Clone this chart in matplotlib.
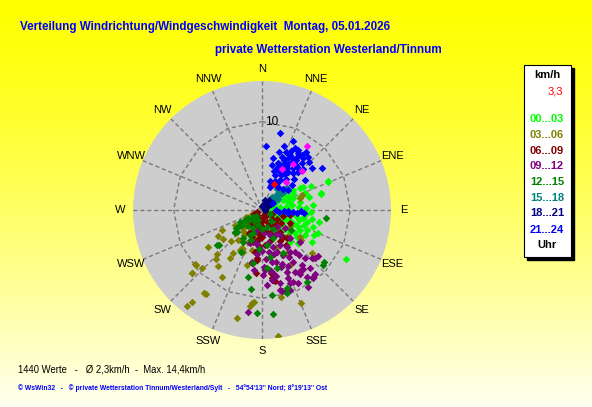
import numpy as np
import matplotlib
matplotlib.use("Agg")
import matplotlib.pyplot as plt
from matplotlib.patches import Rectangle

plt.rcParams['font.family'] = ['Liberation Sans', 'DejaVu Sans']

# ---------------- data (direction in degrees, speed in km/h) ----------------
dir_00_03 = [67, 75, 84, 61, 64, 71, 61, 76, 93, 101, 105, 114, 123, 112, 116, 118, 128, 113, 112, 98, 80, 120,
             139, 128, 64, 60, 66, 74, 69, 70, 80, 85, 90, 95, 100, 105, 108, 115, 120, 125, 130, 110, 100, 95, 88,
             78, 82, 88, 104, 118, 125, 135, 140, 65, 55, 58, 50, 75, 68, 92, 108, 120, 132, 102, 110, 95, 85, 100,
             120, 60, 70, 130, 145]
spd_00_03 = [8.1, 6.9, 5.8, 5.3, 6.2, 4.6, 4.0, 3.3, 4.1, 4.7, 5.3, 5.6, 6.7, 6.8, 6.5, 4.9, 4.0, 3.8, 3.1, 2.4, 2.1,
             11.0, 4.8, 5.0, 2.6, 5.0, 8.2, 7.0, 3.8, 3.0, 3.5, 4.2, 3.0, 3.6, 3.9, 4.3, 3.2, 4.4, 3.6, 4.5, 3.4, 5.0,
             5.8, 5.0, 5.0, 4.4, 2.8, 2.2, 2.7, 2.5, 2.8, 3.2, 4.0, 3.4, 3.0, 4.2, 3.6, 5.5, 5.2, 5.6, 6.1, 5.6, 5.5,
             6.6, 2.0, 1.6, 1.2, 1.0, 1.4, 2.0, 1.4, 2.0, 3.0]

dir_03_06 = [243, 239, 236, 226, 223, 214, 214, 230, 219, 208, 204, 218, 211, 231, 226, 228, 215, 217, 218, 223, 230,
             204, 194, 186, 230, 228, 214, 193, 187, 185, 72, 125, 153, 131, 209, 226, 168, 157, 173, 70, 235, 240,
             245, 220, 210, 200, 250, 225, 215, 128, 135, 150, 160, 195, 198, 120, 233]
spd_03_06 = [5.1, 5.8, 7.4, 7.1, 7.6, 6.5, 5.9, 4.0, 4.4, 4.9, 5.2, 8.1, 8.8, 9.7, 9.4, 10.6, 11.5, 13.1, 13.8, 2.3,
             1.8, 4.0, 4.7, 10.6, 9.7, 10.7, 11.4, 12.5, 10.9, 10.5, 4.5, 5.3, 7.0, 7.5, 5.2, 3.0, 10.1, 11.4, 14.4,
             4.8, 2.6, 3.5, 2.0, 3.2, 2.0, 1.6, 1.2, 5.0, 3.5, 5.6, 4.2, 5.6, 4.6, 6.4, 3.0, 3.6, 5.5]

dir_06_09 = [190, 184, 189, 173, 157, 147, 141, 142, 138, 189, 186, 172, 170, 171, 177, 186, 185, 200, 210, 220, 180,
             170, 160, 150, 130, 120, 110, 105, 100, 115, 125, 135, 195, 205, 215, 230, 240, 250, 180, 175, 165, 155,
             145, 150, 195, 200, 185, 178, 160, 140, 110, 190, 210, 172, 170, 187, 183, 190, 186, 186]
spd_06_09 = [2.5, 3.2, 3.5, 0.9, 1.5, 2.3, 3.2, 3.9, 4.3, 4.8, 5.5, 7.8, 7.5, 8.0, 6.6, 5.7, 7.2, 1.5, 1.2, 0.8, 1.8,
             2.4, 2.8, 1.8, 1.5, 2.0, 1.2, 2.5, 3.2, 3.5, 2.6, 2.2, 2.0, 2.6, 2.0, 1.5, 1.0, 0.6, 3.0, 4.0, 3.6, 3.3,
             4.8, 4.0, 3.8, 3.3, 2.8, 1.2, 0.6, 0.8, 0.5, 1.0, 3.0, 7.2, 8.2, 2.2, 2.9, 3.4, 2.1, 4.0]

dir_09_12 = [149, 144, 145, 149, 146, 140, 132, 134, 129, 138, 146, 146, 153, 155, 160, 163, 170, 169, 177, 179, 172,
             159, 159, 166, 154, 143, 141, 144, 128, 162, 139, 171, 162, 176, 164, 157, 149, 143, 140, 148, 161, 166,
             188, 191, 188, 178, 172, 165, 167, 186, 191, 150, 155, 160, 165, 158, 152, 168, 175, 180, 185, 190, 170,
             150, 135, 130, 142, 174, 195, 200]
spd_09_12 = [6.9, 7.7, 8.1, 8.4, 9.2, 8.5, 8.1, 7.9, 8.2, 7.3, 5.7, 5.1, 4.5, 5.6, 5.1, 4.4, 3.8, 6.0, 6.8, 7.4, 6.9,
             8.2, 8.9, 8.5, 9.2, 9.6, 6.6, 3.5, 3.3, 3.0, 2.6, 7.1, 6.8, 8.5, 9.7, 8.9, 10.2, 9.5, 9.4, 8.1, 9.6, 9.4,
             11.7, 6.0, 6.9, 6.5, 8.0, 6.1, 9.3, 5.0, 6.1, 6.2, 7.0, 6.5, 5.2, 7.6, 8.0, 7.6, 5.6, 4.6, 4.2, 3.8, 4.8,
             3.2, 4.5, 5.6, 6.0, 2.6, 2.5, 4.0]

dir_12_15 = [233, 234, 236, 231, 231, 207, 234, 232, 201, 192, 188, 190, 229, 232, 241, 183, 97, 130, 166, 175, 154,
             172, 159, 206, 236, 207, 170, 173, 174, 162, 163, 148, 225, 215, 195, 180, 165, 150, 140, 120, 200, 210,
             220, 185, 235, 132, 125, 240, 240, 214, 202]
spd_12_15 = [2.8, 3.3, 3.0, 4.0, 6.3, 5.3, 2.0, 1.3, 2.8, 7.8, 9.0, 6.1, 3.8, 6.4, 2.8, 11.7, 7.3, 9.1, 6.8, 6.6, 5.4,
             4.0, 3.4, 3.2, 2.0, 2.3, 5.4, 9.7, 11.8, 9.3, 9.8, 9.6, 1.0, 1.5, 1.8, 2.2, 2.0, 2.5, 1.6, 1.0, 3.6, 4.2,
             2.4, 4.4, 3.6, 9.3, 4.0, 1.8, 2.2, 3.8, 1.2]

dir_15_18 = [47, 47, 47, 47, 47, 47, 47, 47, 47, 47, 47, 44, 44, 44, 44, 50, 50, 50, 50, 52, 36, 38, 40, 55, 45, 49]
spd_15_18 = [0.5, 0.8, 1.1, 1.4, 1.7, 2.0, 2.3, 2.6, 2.9, 3.2, 3.5, 1.0, 1.8, 2.5, 3.0, 1.3, 2.1, 2.8, 3.4, 3.7, 2.9,
             1.9, 1.2, 2.2, 0.3, 3.8]

dir_18_21 = [30, 45, 60, 20, 70, 40, 15, 80, 35, 55, 0, 31]
spd_18_21 = [0.4, 0.6, 0.8, 0.7, 0.5, 1.0, 1.2, 0.3, 1.4, 1.2, 0.4, 0.7]

dir_21_24 = [13, 4, 19, 24, 28, 31, 37, 41, 38, 27, 21, 12, 13, 19, 26, 32, 31, 36, 39, 50, 55, 40, 25, 20, 33, 40,
             55, 19, 31, 50, 52, 36, 32, 27, 20, 28, 43, 24, 29, 34, 30, 23, 35, 28, 17, 45, 33, 26, 22, 16, 44, 37,
             30, 25, 38, 46, 15, 92, 93, 94, 95, 92, 98, 90, 94, 20, 35, 45, 28, 60, 97]
spd_21_24 = [8.9, 7.3, 7.7, 8.5, 8.0, 7.9, 8.2, 8.0, 7.5, 6.6, 6.4, 6.0, 5.2, 5.6, 5.9, 6.4, 5.6, 5.9, 6.3, 7.4, 8.3,
             7.0, 4.8, 4.2, 4.8, 5.5, 6.0, 2.8, 4.0, 4.4, 3.7, 7.7, 7.6, 7.0, 5.1, 5.1, 5.9, 6.2, 6.0, 6.8, 6.8, 5.4,
             5.2, 4.5, 4.6, 6.6, 7.2, 7.4, 7.1, 6.8, 7.6, 6.4, 5.0, 3.6, 4.4, 5.0, 3.4, 2.5, 3.0, 3.5, 4.0, 4.4, 2.0,
             1.6, 4.8, 3.0, 3.2, 3.4, 3.5, 1.5, 3.0]

dir_highlight = [35, 26, 34, 46, 41]
spd_highlight = [8.9, 5.2, 6.3, 6.3, 4.2]

dir_current = [25]
spd_current = [3.3]

groups = ['00...03', '03...06', '06...09', '09...12', '12...15', '15...18', '18...21', '21...24']
group_colors = ['#00FF00', '#808000', '#800000', '#800080', '#008000', '#008080', '#000080', '#0000FF']
group_dirs = [dir_00_03, dir_03_06, dir_06_09, dir_09_12, dir_12_15, dir_15_18, dir_18_21, dir_21_24]
group_spds = [spd_00_03, spd_03_06, spd_06_09, spd_09_12, spd_12_15, spd_15_18, spd_18_21, spd_21_24]

compass = ['N', 'NNE', 'NE', 'ENE', 'E', 'ESE', 'SE', 'SSE', 'S', 'SSW', 'SW', 'WSW', 'W', 'WNW', 'NW', 'NNW']
ring_value = 10
r_max = 14.6

title1 = 'Verteilung Windrichtung/Windgeschwindigkeit  Montag, 05.01.2026'
title2 = 'private Wetterstation Westerland/Tinnum'
stats = '1440 Werte   -   Ø 2,3km/h  -  Max. 14,4km/h'
footer = "© WsWin32   -   © private Wetterstation Tinnum/Westerland/Sylt   -   54°54'13'' Nord; 8°19'13'' Ost"
current_value = '3,3'

# ---------------- figure ----------------
W, H = 592, 407
fig = plt.figure(figsize=(W / 100, H / 100), dpi=100)

# background gradient
bg = fig.add_axes([0, 0, 1, 1], zorder=-10)
yy = np.linspace(0, 1, 200)[:, None]
blue = 240 * yy ** 1.3
img = np.dstack([np.ones_like(blue), np.ones_like(blue), blue / 255.0])
img = np.repeat(img, 4, axis=1)
bg.imshow(img, aspect='auto', extent=[0, 1, 0, 1], origin='upper')
bg.set_axis_off()

# polar axes
cx, cy, rad = 262, 210, 129
ax = fig.add_axes([(cx - rad) / W, (H - cy - rad) / H, 2 * rad / W, 2 * rad / H], projection='polar')
ax.set_theta_zero_location('N')
ax.set_theta_direction(-1)
ax.set_ylim(0, r_max)
ax.set_facecolor('#CDCDCD')
ax.grid(False)
ax.set_xticks([])
ax.set_yticks([])
ax.spines['polar'].set_visible(False)

angles = np.deg2rad(np.arange(16) * 22.5)
dash = (0, (3, 2))
for a in angles:
    ax.plot([a, a], [0, r_max], color='#7A7A7A', lw=1.0, ls=dash, zorder=1)
poly_t = np.append(angles, angles[0])
ax.plot(poly_t, [ring_value] * len(poly_t), color='#7A7A7A', lw=1.0, ls=dash, zorder=1)

for a, lab in zip(angles, compass):
    ax.text(a, 16.0, lab, ha='center', va='center', fontsize=8, color='black', clip_on=False)
ax.annotate(str(ring_value), xy=(0, ring_value), xytext=(2.5, 0), textcoords='offset points',
            ha='left', va='center', fontsize=8.5, color='black')

msize = 15
for d, s, c in zip(group_dirs, group_spds, group_colors):
    ax.scatter(np.deg2rad(d), s, marker='D', s=msize, c=c, linewidths=0, zorder=3)
ax.scatter(np.deg2rad(dir_highlight), spd_highlight, marker='D', s=msize, c='#FF00FF', linewidths=0, zorder=4)
ax.scatter(np.deg2rad(dir_current), spd_current, marker='D', s=msize, c='#FF0000', linewidths=0, zorder=4)

# titles
fig.text(20 / W, 1 - 30 / H, title1, fontsize=8.35, fontweight='bold', color='#0000FF', va='baseline', ha='left')
fig.text(215 / W, 1 - 53 / H, title2, fontsize=8.4, fontweight='bold', color='#0000FF', va='baseline', ha='left')

# bottom texts
fig.text(18 / W, 1 - 373 / H, stats, fontsize=6.85, color='black', va='baseline', ha='left')
fig.text(18 / W, 1 - 390 / H, footer, fontsize=4.9, color='#0000FF', va='baseline', ha='left', fontweight='bold')

# legend box
bx0, bx1, by0, by1 = 524, 571, 65, 257
fig.patches.append(Rectangle(((bx0 + 3) / W, 1 - (by1 + 3) / H), (bx1 - bx0) / W, (by1 - by0) / H,
                             transform=fig.transFigure, facecolor='black', edgecolor='black', zorder=5))
fig.patches.append(Rectangle((bx0 / W, 1 - by1 / H), (bx1 - bx0) / W, (by1 - by0) / H,
                             transform=fig.transFigure, facecolor='white', edgecolor='black', lw=0.8, zorder=6))
lx = 547 / W
fig.text(lx, 1 - 75 / H, 'km/h', fontsize=8, fontweight='bold', color='black', ha='center', va='center', zorder=7)
fig.text(555 / W, 1 - 92 / H, current_value, fontsize=8, color='#FF0000', ha='center', va='center', zorder=7)
leg_y = [119, 135, 151, 166, 182, 198, 213, 230]
for g, c, y in zip(groups, group_colors, leg_y):
    fig.text(lx, 1 - y / H, g, fontsize=8, fontweight='bold', color=c, ha='center', va='center', zorder=7)
fig.text(lx, 1 - 245 / H, 'Uhr', fontsize=8, fontweight='bold', color='black', ha='center', va='center', zorder=7)

fig.savefig('out.png', dpi=100)
